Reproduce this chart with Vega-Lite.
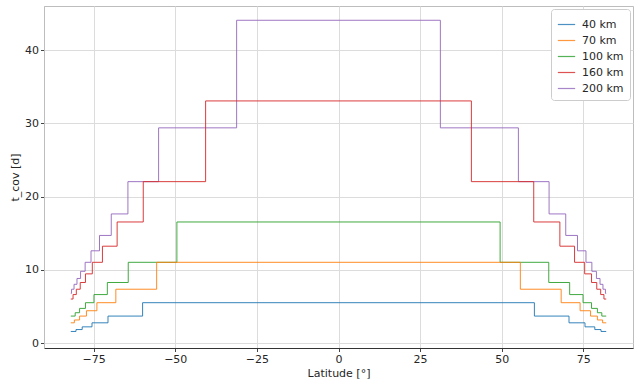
{
  "$schema": "https://vega.github.io/schema/vega-lite/v6.json",
  "width": 589,
  "height": 342,
  "autosize": {"type": "none"},
  "padding": {"left": 44, "top": 6, "right": 8, "bottom": 32},
  "background": "white",
  "config": {
    "font": "DejaVu Sans",
    "view": {"stroke": "#bdbdbd", "strokeWidth": 1},
    "axis": {"labelFont": "DejaVu Sans", "titleFont": "DejaVu Sans", "labelFontSize": 11, "titleFontSize": 11, "labelColor": "#262626", "titleColor": "#262626", "titleFontWeight": "normal", "gridColor": "#dcdcdc", "gridWidth": 1, "tickColor": "#444", "tickSize": 3.5},
    "legend": {"labelFont": "DejaVu Sans", "labelFontSize": 11, "labelColor": "#262626"}
  },
  "data": {"values": [
    {"h":"200 km","lat":-82.0,"t":6.78},{"h":"200 km","lat":-81.76,"t":7.35},{"h":"200 km","lat":-81.0,"t":8.02},{"h":"200 km","lat":-80.1,"t":8.82},{"h":"200 km","lat":-79.0,"t":9.8},{"h":"200 km","lat":-77.6,"t":11.03},{"h":"200 km","lat":-75.8,"t":12.6},{"h":"200 km","lat":-73.2,"t":14.7},{"h":"200 km","lat":-69.6,"t":17.64},{"h":"200 km","lat":-64.5,"t":22.05},{"h":"200 km","lat":-55.1,"t":29.4},{"h":"200 km","lat":-31.2,"t":44.1},
    {"h":"200 km","lat":31.2,"t":29.4},{"h":"200 km","lat":55.1,"t":22.05},{"h":"200 km","lat":64.5,"t":17.64},{"h":"200 km","lat":69.6,"t":14.7},{"h":"200 km","lat":73.2,"t":12.6},{"h":"200 km","lat":75.8,"t":11.03},{"h":"200 km","lat":77.6,"t":9.8},{"h":"200 km","lat":79.0,"t":8.82},{"h":"200 km","lat":80.1,"t":8.02},{"h":"200 km","lat":81.0,"t":7.35},{"h":"200 km","lat":81.76,"t":6.78},{"h":"200 km","lat":82.0,"t":6.78},
    {"h":"160 km","lat":-82.0,"t":6.01},{"h":"160 km","lat":-81.3,"t":6.62},{"h":"160 km","lat":-80.3,"t":7.35},{"h":"160 km","lat":-79.1,"t":8.27},{"h":"160 km","lat":-77.5,"t":9.45},{"h":"160 km","lat":-75.4,"t":11.03},{"h":"160 km","lat":-72.3,"t":13.23},{"h":"160 km","lat":-67.8,"t":16.54},{"h":"160 km","lat":-59.8,"t":22.05},{"h":"160 km","lat":-40.7,"t":33.08},
    {"h":"160 km","lat":40.7,"t":22.05},{"h":"160 km","lat":59.8,"t":16.54},{"h":"160 km","lat":67.8,"t":13.23},{"h":"160 km","lat":72.3,"t":11.03},{"h":"160 km","lat":75.4,"t":9.45},{"h":"160 km","lat":77.5,"t":8.27},{"h":"160 km","lat":79.1,"t":7.35},{"h":"160 km","lat":80.3,"t":6.62},{"h":"160 km","lat":81.3,"t":6.01},{"h":"160 km","lat":82.0,"t":6.01},
    {"h":"100 km","lat":-82.0,"t":3.68},{"h":"100 km","lat":-80.65,"t":4.14},{"h":"100 km","lat":-79.3,"t":4.73},{"h":"100 km","lat":-77.5,"t":5.51},{"h":"100 km","lat":-74.9,"t":6.62},{"h":"100 km","lat":-70.8,"t":8.27},{"h":"100 km","lat":-64.4,"t":11.03},{"h":"100 km","lat":-49.5,"t":16.54},
    {"h":"100 km","lat":49.5,"t":11.03},{"h":"100 km","lat":64.4,"t":8.27},{"h":"100 km","lat":70.8,"t":6.62},{"h":"100 km","lat":74.9,"t":5.51},{"h":"100 km","lat":77.5,"t":4.73},{"h":"100 km","lat":79.3,"t":4.14},{"h":"100 km","lat":80.65,"t":3.68},{"h":"100 km","lat":82.0,"t":3.68},
    {"h":"70 km","lat":-82.0,"t":2.76},{"h":"70 km","lat":-80.9,"t":3.15},{"h":"70 km","lat":-79.3,"t":3.68},{"h":"70 km","lat":-77.2,"t":4.41},{"h":"70 km","lat":-74.0,"t":5.51},{"h":"70 km","lat":-68.2,"t":7.35},{"h":"70 km","lat":-55.7,"t":11.03},
    {"h":"70 km","lat":55.7,"t":7.35},{"h":"70 km","lat":68.2,"t":5.51},{"h":"70 km","lat":74.0,"t":4.41},{"h":"70 km","lat":77.2,"t":3.68},{"h":"70 km","lat":79.3,"t":3.15},{"h":"70 km","lat":80.9,"t":2.76},{"h":"70 km","lat":82.0,"t":2.76},
    {"h":"40 km","lat":-82.0,"t":1.58},{"h":"40 km","lat":-80.4,"t":1.84},{"h":"40 km","lat":-78.5,"t":2.21},{"h":"40 km","lat":-75.5,"t":2.76},{"h":"40 km","lat":-70.6,"t":3.68},{"h":"40 km","lat":-60.0,"t":5.51},
    {"h":"40 km","lat":60.0,"t":3.68},{"h":"40 km","lat":70.6,"t":2.76},{"h":"40 km","lat":75.5,"t":2.21},{"h":"40 km","lat":78.5,"t":1.84},{"h":"40 km","lat":80.4,"t":1.58},{"h":"40 km","lat":82.0,"t":1.58}
  ]},
  "mark": {"type": "line", "interpolate": "step-after", "strokeWidth": 1, "opacity": 0.9, "clip": true},
  "encoding": {
    "x": {"field": "lat", "type": "quantitative", "title": "Latitude [°]",
      "scale": {"domain": [-90.2, 90.2], "nice": false, "zero": false},
      "axis": {"values": [-75, -50, -25, 0, 25, 50, 75], "labelExpr": "replace(datum.label, '-', '\u2212')", "domainColor": "#333", "titlePadding": 3}},
    "y": {"field": "t", "type": "quantitative", "title": "t_cov [d]",
      "scale": {"domain": [-0.68, 46.05], "nice": false, "zero": false},
      "axis": {"values": [0, 10, 20, 30, 40], "domainColor": "#bdbdbd", "titlePadding": 4}},
    "color": {"field": "h", "type": "nominal", "title": null,
      "scale": {"domain": ["40 km", "70 km", "100 km", "160 km", "200 km"], "range": ["#1f77b4", "#ff7f0e", "#2ca02c", "#d62728", "#9467bd"]},
      "legend": {"orient": "top-right", "offset": 3, "padding": 6, "fillColor": "white", "strokeColor": "#cccccc", "cornerRadius": 3, "symbolType": "stroke", "symbolSize": 300, "symbolStrokeWidth": 1.2, "symbolOpacity": 0.8, "rowPadding": 1, "labelOffset": 6}}
  }
}
